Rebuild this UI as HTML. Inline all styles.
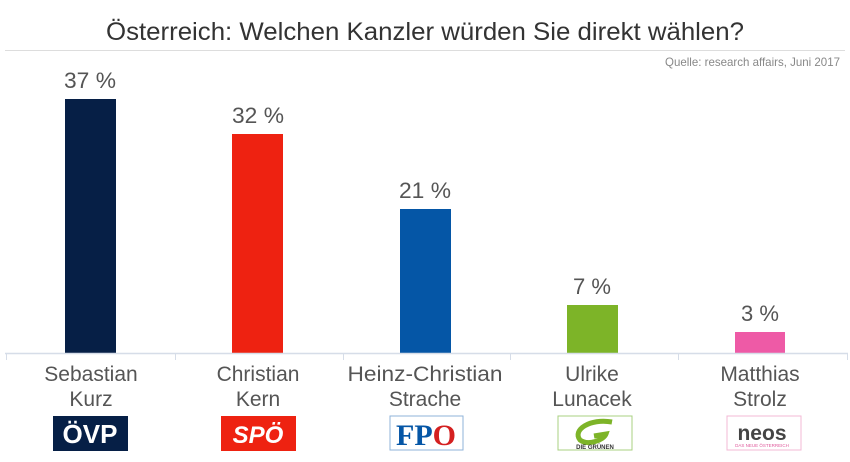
<!DOCTYPE html>
<html><head><meta charset="utf-8"><style>
html,body{margin:0;padding:0;background:#fff;width:850px;height:462px;overflow:hidden}
svg{display:block}
text{font-family:"Liberation Sans",sans-serif}
</style></head><body>
<svg width="850" height="462" viewBox="0 0 850 462">
<text x="425" y="40" text-anchor="middle" font-size="25" fill="#333" textLength="638" lengthAdjust="spacingAndGlyphs">Österreich: Welchen Kanzler würden Sie direkt wählen?</text>
<line x1="5" y1="50.5" x2="845" y2="50.5" stroke="#ddd" stroke-width="1"/>
<text x="840" y="66" text-anchor="end" font-size="12" fill="#888" textLength="175" lengthAdjust="spacingAndGlyphs">Quelle: research affairs, Juni 2017</text>
<g font-size="22" fill="#555" text-anchor="middle">
<rect x="65" y="99" width="51" height="254" fill="#061f46"/><text x="90" y="88" textLength="52" lengthAdjust="spacingAndGlyphs">37 %</text>
<rect x="232" y="134" width="51" height="219" fill="#ee2211"/><text x="258" y="123" textLength="52" lengthAdjust="spacingAndGlyphs">32 %</text>
<rect x="400" y="209" width="51" height="144" fill="#0556a6"/><text x="425" y="198" textLength="52" lengthAdjust="spacingAndGlyphs">21 %</text>
<rect x="567" y="305" width="51" height="48" fill="#7db428"/><text x="592" y="294" textLength="38" lengthAdjust="spacingAndGlyphs">7 %</text>
<rect x="735" y="332" width="50" height="21" fill="#ee5aa6"/><text x="760" y="321" textLength="38" lengthAdjust="spacingAndGlyphs">3 %</text>
</g>
<line x1="5" y1="353.5" x2="848" y2="353.5" stroke="#d6dde8" stroke-width="1.5"/>
<g stroke="#d6dde8" stroke-width="1">
<line x1="6.5" y1="353" x2="6.5" y2="360"/><line x1="175.5" y1="353" x2="175.5" y2="360"/><line x1="343.5" y1="353" x2="343.5" y2="360"/><line x1="510.5" y1="353" x2="510.5" y2="360"/><line x1="678.5" y1="353" x2="678.5" y2="360"/><line x1="847.5" y1="353" x2="847.5" y2="360"/>
</g>
<g font-size="21" fill="#555" text-anchor="middle">
<text x="91" y="381">Sebastian</text><text x="91" y="406">Kurz</text>
<text x="258" y="381">Christian</text><text x="258" y="406">Kern</text>
<text x="425" y="381" textLength="155" lengthAdjust="spacingAndGlyphs">Heinz-Christian</text><text x="425" y="406">Strache</text>
<text x="592" y="381">Ulrike</text><text x="592" y="406">Lunacek</text>
<text x="760" y="381">Matthias</text><text x="760" y="406">Strolz</text>
</g>
<rect x="53" y="416" width="75" height="35" fill="#061f46"/>
<text x="90" y="443" font-size="26" font-weight="bold" fill="#fff" text-anchor="middle">ÖVP</text>
<rect x="221" y="416" width="75" height="35" fill="#ee2211"/>
<text x="258" y="443" font-size="24" font-weight="bold" font-style="italic" fill="#fff" text-anchor="middle">SPÖ</text>
<rect x="390" y="416" width="73" height="34" fill="#fff" stroke="#8fb3d9"/>
<text x="426" y="445" font-size="30" font-weight="bold" fill="#0556a6" text-anchor="middle" style="font-family:'Liberation Serif',serif">FP<tspan fill="#d42020">O</tspan></text>
<rect x="558" y="416" width="74" height="34" fill="#fff" stroke="#a8d080"/>
<path d="M612 422 C590 418 572 430 580 440 C588 446 604 440 606 434 L594 436" stroke="#7db428" stroke-width="5" fill="none"/>
<text x="595" y="449" font-size="6" font-weight="bold" fill="#333" text-anchor="middle">DIE GRÜNEN</text>
<rect x="727" y="416" width="74" height="34" fill="#fff" stroke="#f3b8d6"/>
<text x="762" y="440" font-size="21" font-weight="bold" fill="#444" text-anchor="middle">neos</text>
<text x="762" y="447" font-size="4.5" fill="#e05a9c" text-anchor="middle">DAS NEUE ÖSTERREICH</text>
</svg>
</body></html>
